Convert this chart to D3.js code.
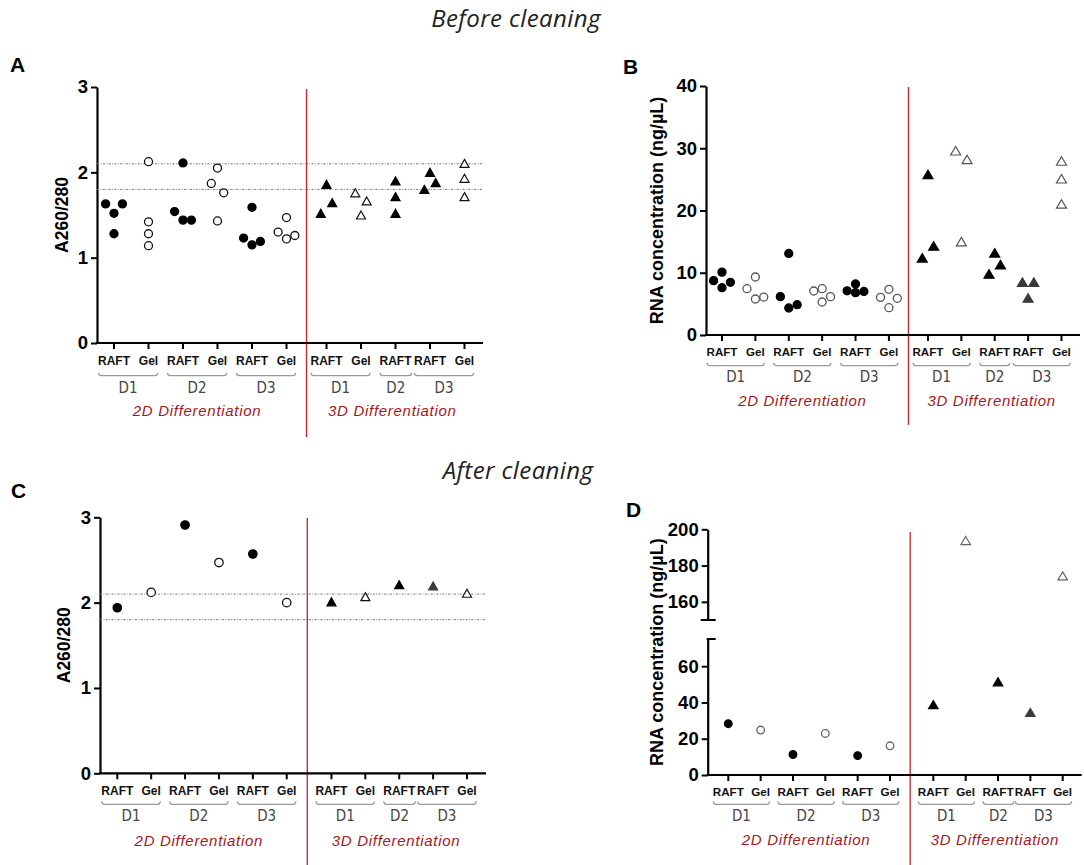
<!DOCTYPE html>
<html>
<head>
<meta charset="utf-8">
<script src="https://cdn.jsdelivr.net/npm/d3@7"></script>
<style>
  body { margin: 0; background: #fff; }
  svg { display: block; }
</style>
</head>
<body>
<svg id="fig" width="1084" height="865"></svg>
<script>
// ---- categories (one entry per x position) ----
const conditions = ["RAFT", "Gel", "RAFT", "Gel", "RAFT", "Gel", "RAFT", "Gel", "RAFT", "RAFT", "Gel"];
const days       = ["D1", "D1", "D2", "D2", "D3", "D3", "D1", "D1", "D2", "D3", "D3"];
const systems    = ["2D", "2D", "2D", "2D", "2D", "2D", "3D", "3D", "3D", "3D", "3D"];
const systemNames = { "2D": "2D Differentiation", "3D": "3D Differentiation" };

// ---- before cleaning: A260/280 replicates per category ----
const purityBefore = [
  [1.63, 1.52, 1.63, 1.28],
  [2.125, 1.42, 1.28, 1.14],
  [2.11, 1.54, 1.44, 1.44],
  [1.87, 2.05, 1.76, 1.43],
  [1.59, 1.23, 1.15, 1.19],
  [1.30, 1.47, 1.22, 1.26],
  [1.52, 1.86, 1.645],
  [1.76, 1.50, 1.665],
  [1.90, 1.715, 1.52],
  [1.80, 2.00, 1.88],
  [2.105, 1.93, 1.715]
];

// ---- before cleaning: RNA concentration (ng/µL) replicates ----
const concBefore = [
  [8.73, 10.1, 7.6, 8.46],
  [7.44, 9.32, 5.78, 6.1],
  [6.16, 13.1, 4.34, 4.87],
  [7.07, 7.44, 5.3, 6.16],
  [7.1, 8.2, 6.8, 7.0],
  [6.05, 7.34, 4.39, 5.89],
  [12.4, 25.8, 14.3],
  [29.6, 15.0, 28.2],
  [9.8, 13.2, 11.3],
  [8.5, 5.94, 8.5],
  [27.95, 25.1, 21.05]
];

// ---- after cleaning: pooled samples ----
const purityAfter = [1.94, 2.12, 2.91, 2.47, 2.57, 2.00, 2.01, 2.07, 2.21, 2.195, 2.11];
const concAfter   = [28.3, 24.8, 11.3, 22.9, 10.7, 16.1, 38.8, 193.8, 51.4, 34.5, 174.3];

// ---- axes ----
const purityTicks = [0, 1, 2, 3];
const purityLimits = [1.8, 2.1];
const concTicks = [0, 10, 20, 30, 40];
const concTicksLow = [0, 20, 40, 60];
const concTicksHigh = [160, 180, 200];

const SANS = "'Liberation Sans', Arial, Helvetica, sans-serif";
const NARROW = "'Liberation Sans Narrow', 'Arial Narrow', 'DejaVu Sans Condensed', sans-serif";
const RED = "#c0262c";
const LABEL_RED = "#a8161c";

const svg = d3.select("#fig");
svg.append("rect").attr("width", 1084).attr("height", 865).attr("fill", "#fff");

// Section headings
svg.append("text").attr("x", 516).attr("y", 27).attr("text-anchor", "middle")
  .attr("font-family", "'Open Sans', sans-serif").attr("font-style", "italic")
  .attr("font-size", 24).attr("letter-spacing", 0.4).attr("fill", "#222").text("Before cleaning");
svg.append("text").attr("x", 518).attr("y", 479).attr("text-anchor", "middle")
  .attr("font-family", "'Open Sans', sans-serif").attr("font-style", "italic")
  .attr("font-size", 24).attr("letter-spacing", 0.4).attr("fill", "#222").text("After cleaning");

// Horizontal spread of replicates sharing a column (GraphPad-style scatter)
function spread(ys, shape) {
  const T = shape === "circle" ? 10.5 : 12.5;
  const step = shape === "circle" ? 8.4 : 5.7;
  const pairStep = shape === "circle" ? 6.2 : 5.7;
  const off = new Array(ys.length).fill(0);
  if (ys.length < 2) return off;
  const order = ys.map((_, i) => i).sort((a, b) => ys[a] - ys[b]);
  const clusters = [];
  let cur = [order[0]];
  for (let k = 1; k < order.length; k++) {
    if (ys[order[k]] - ys[order[k - 1]] < T) cur.push(order[k]);
    else { clusters.push(cur); cur = [order[k]]; }
  }
  clusters.push(cur);
  clusters.forEach(c => {
    c.sort((a, b) => a - b);
    const n = c.length;
    let lanes;
    if (n === 1) lanes = [0];
    else if (n === 2) lanes = [-1, 1];
    else if (n === 3) lanes = [-1, 0, 1];
    else lanes = [-1, ...new Array(n - 2).fill(0), 1];
    const s = n === 2 ? pairStep : step;
    c.forEach((p, k) => { off[p] = lanes[k] * s; });
  });
  return off;
}

function trianglePath(w, h) {
  return `M0,${-h / 2}L${w / 2},${h / 2}L${-w / 2},${h / 2}Z`;
}

function drawPanel(cfg) {
  const g = svg.append("g");
  const slot = i => i + (systems[i] === "3D" ? cfg.gap : 0);
  const x = d3.scaleLinear().domain([0, 10 + cfg.gap]).range([cfg.xFirst, cfg.xLast]);

  // panel letter
  g.append("text").attr("x", cfg.letterX).attr("y", cfg.letterY)
    .attr("font-family", SANS).attr("font-weight", "bold").attr("font-size", 21)
    .attr("fill", "#000").text(cfg.letter);

  // y axis (single or broken)
  const segments = cfg.segments;
  const yOf = v => {
    const seg = segments.find(s => v >= s.domain[0] && v <= s.domain[1]) || segments[0];
    return seg.scale(v);
  };
  segments.forEach((s, si) => {
    s.scale = d3.scaleLinear().domain(s.domain).range(s.range);
    const axis = d3.axisLeft(s.scale).tickValues(s.ticks).tickFormat(d3.format("d"))
      .tickSize(6).tickPadding(3).tickSizeOuter(0);
    const ag = g.append("g").attr("transform", `translate(${cfg.axisX},0)`).call(axis);
    ag.select(".domain").attr("stroke", "#000").attr("stroke-width", 2.2);
    ag.selectAll(".tick line").attr("stroke", "#000").attr("stroke-width", 2);
    ag.selectAll(".tick text").attr("font-family", SANS).attr("font-weight", "bold")
      .attr("font-size", 18.5).attr("fill", "#000");
    if (segments.length > 1) {
      // break caps
      const yLow = s.scale(s.domain[0]), yHigh = s.scale(s.domain[1]);
      if (si === 0) {
        g.append("line").attr("x1", cfg.axisX - 1).attr("x2", cfg.axisX + 8)
          .attr("y1", yHigh).attr("y2", yHigh).attr("stroke", "#000").attr("stroke-width", 2);
      } else {
        g.append("line").attr("x1", cfg.axisX - 7).attr("x2", cfg.axisX + 8)
          .attr("y1", yLow).attr("y2", yLow).attr("stroke", "#000").attr("stroke-width", 2);
      }
    }
  });
  const yBase = segments[0].scale(segments[0].domain[0]);
  const yTopAll = d3.min(segments, s => s.scale(s.domain[1]));

  // y title
  g.append("text")
    .attr("transform", `translate(${cfg.yTitleX},${(yBase + yTopAll) / 2}) rotate(-90)`)
    .attr("text-anchor", "middle").attr("font-family", SANS).attr("font-weight", "bold")
    .attr("font-size", cfg.yTitleSize).attr("fill", "#000").text(cfg.yTitle);

  // reference limits
  (cfg.refLines || []).forEach(v => {
    g.append("line").attr("x1", cfg.axisX).attr("x2", cfg.axisEnd)
      .attr("y1", yOf(v)).attr("y2", yOf(v))
      .attr("stroke", "#777").attr("stroke-width", 1)
      .attr("stroke-dasharray", "2.2,1.4,0.8,1.4");
  });

  // red separator between 2D and 3D
  const sepX = (x(slot(5)) + x(slot(6))) / 2 + (cfg.sepShift || 0);
  g.append("line").attr("x1", sepX).attr("x2", sepX)
    .attr("y1", cfg.redTop).attr("y2", cfg.redBottom)
    .attr("stroke", RED).attr("stroke-width", 1.3);

  // x axis
  g.append("line").attr("x1", cfg.axisX - 1).attr("x2", cfg.axisEnd)
    .attr("y1", yBase).attr("y2", yBase).attr("stroke", "#000").attr("stroke-width", 2.2);
  const idx = d3.range(conditions.length);
  g.selectAll(".xt").data(idx).join("line")
    .attr("x1", i => x(slot(i))).attr("x2", i => x(slot(i)))
    .attr("y1", yBase).attr("y2", yBase + 6)
    .attr("stroke", "#000").attr("stroke-width", 2);

  const labels = g.selectAll(".xl").data(idx).join("text")
    .attr("x", i => x(slot(i))).attr("y", yBase + cfg.off[0])
    .attr("text-anchor", "middle").attr("font-family", SANS).attr("font-weight", "bold")
    .attr("font-size", cfg.labelSize).attr("fill", "#111")
    .text(i => conditions[i]);
  const boxes = labels.nodes().map(n => n.getBBox());

  // day groups with brackets
  const groups = d3.groups(idx, i => systems[i] + days[i]);
  groups.forEach(([, members]) => {
    const x0 = d3.min(members, i => boxes[i].x) + 0.5;
    const x1 = d3.max(members, i => boxes[i].x + boxes[i].width) - 0.5;
    const by = yBase + cfg.off[1];
    g.append("path")
      .attr("d", `M${x0},${by - 3}Q${x0},${by} ${x0 + 3},${by}L${x1 - 3},${by}Q${x1},${by} ${x1},${by - 3}`)
      .attr("fill", "none").attr("stroke", "#9a9a9a").attr("stroke-width", 1.2);
    g.append("text").attr("x", (x0 + x1) / 2).attr("y", yBase + cfg.off[2])
      .attr("text-anchor", "middle").attr("font-family", NARROW)
      .attr("font-size", 15).attr("fill", "#444").text(days[members[0]]);
  });

  // system labels
  d3.groups(idx, i => systems[i]).forEach(([sys, members]) => {
    const x0 = d3.min(members, i => boxes[i].x);
    const x1 = d3.max(members, i => boxes[i].x + boxes[i].width);
    g.append("text").attr("x", (x0 + x1) / 2).attr("y", yBase + cfg.off[3])
      .attr("text-anchor", "middle").attr("font-family", SANS).attr("font-style", "italic")
      .attr("font-size", 15).attr("letter-spacing", 0.7).attr("fill", LABEL_RED)
      .text(systemNames[sys]);
  });

  // points
  const pts = [];
  cfg.values.forEach((vals, i) => {
    const list = Array.isArray(vals) ? vals : [vals];
    const shape = systems[i] === "2D" ? "circle" : "triangle";
    const ys = list.map(yOf);
    const dx = spread(ys, shape);
    list.forEach((v, k) => pts.push({ i, v, shape, px: x(slot(i)) + dx[k], py: ys[k] }));
  });
  const fillOf = d => {
    if (conditions[d.i] === "Gel") return "#fff";
    return (cfg.greyD3 && systems[d.i] === "3D" && days[d.i] === "D3") ? "#3a3a3a" : "#000";
  };
  const strokeOf = d => conditions[d.i] === "Gel" ? cfg.openStroke : fillOf(d);
  g.selectAll(".pt-c").data(pts.filter(p => p.shape === "circle")).join("circle")
    .attr("cx", d => d.px).attr("cy", d => d.py).attr("r", cfg.r)
    .attr("fill", fillOf).attr("stroke", strokeOf).attr("stroke-width", 1.3);
  g.selectAll(".pt-t").data(pts.filter(p => p.shape === "triangle")).join("path")
    .attr("transform", d => `translate(${d.px},${d.py})`)
    .attr("d", trianglePath(cfg.triW, cfg.triH))
    .attr("fill", fillOf).attr("stroke", strokeOf).attr("stroke-width", 1.2)
    .attr("stroke-linejoin", "miter");
}

// A: purity before cleaning
drawPanel({
  letter: "A", letterX: 10, letterY: 72,
  axisX: 97, axisEnd: 483, xFirst: 114, xLast: 464.5, gap: 0.16,
  segments: [{ domain: [0, 3], range: [343, 87], ticks: purityTicks }],
  yTitle: "A260/280", yTitleX: 68, yTitleSize: 17.5,
  refLines: purityLimits, redTop: 89, redBottom: 437,
  off: [22, 32.7, 49.5, 73], labelSize: 12,
  values: purityBefore, openStroke: "#111", r: 4, triW: 9, triH: 8, greyD3: false
});

// B: concentration before cleaning
drawPanel({
  letter: "B", letterX: 623, letterY: 74,
  axisX: 706, axisEnd: 1080, xFirst: 722, xLast: 1061.5, gap: 0.17,
  segments: [{ domain: [0, 40], range: [335, 86], ticks: concTicks }],
  yTitle: "RNA concentration (ng/\u00b5L)", yTitleX: 663, yTitleSize: 18,
  refLines: [], redTop: 87, redBottom: 425,
  off: [21, 30.7, 47, 71], labelSize: 11.6,
  values: concBefore, openStroke: "#555", r: 4, triW: 10, triH: 8.5, greyD3: true
});

// C: purity after cleaning
drawPanel({
  letter: "C", letterX: 11, letterY: 498,
  axisX: 100, axisEnd: 486, xFirst: 117.3, xLast: 467, gap: 0.32,
  segments: [{ domain: [0, 3], range: [773.3, 517.3], ticks: purityTicks }],
  yTitle: "A260/280", yTitleX: 69.5, yTitleSize: 17.5,
  refLines: purityLimits, redTop: 518, redBottom: 865, sepShift: -1.8,
  off: [21.7, 31, 48, 72.5], labelSize: 12,
  values: purityAfter, openStroke: "#111", r: 4.2, triW: 9, triH: 8, greyD3: true
});

// D: concentration after cleaning (broken axis)
drawPanel({
  letter: "D", letterX: 626, letterY: 517,
  axisX: 707.7, axisEnd: 1081.7, xFirst: 728.3, xLast: 1062.7, gap: 0.34,
  segments: [
    { domain: [0, 75], range: [775, 639], ticks: concTicksLow },
    { domain: [150, 200], range: [620, 529.3], ticks: concTicksHigh }
  ],
  yTitle: "RNA concentration (ng/\u00b5L)", yTitleX: 663, yTitleSize: 18,
  refLines: [], redTop: 532, redBottom: 865, sepShift: -1.5,
  off: [21, 29.3, 46.3, 70], labelSize: 11.7,
  values: concAfter, openStroke: "#666", r: 3.8, triW: 9.5, triH: 8, greyD3: true
});
</script>
</body>
</html>
